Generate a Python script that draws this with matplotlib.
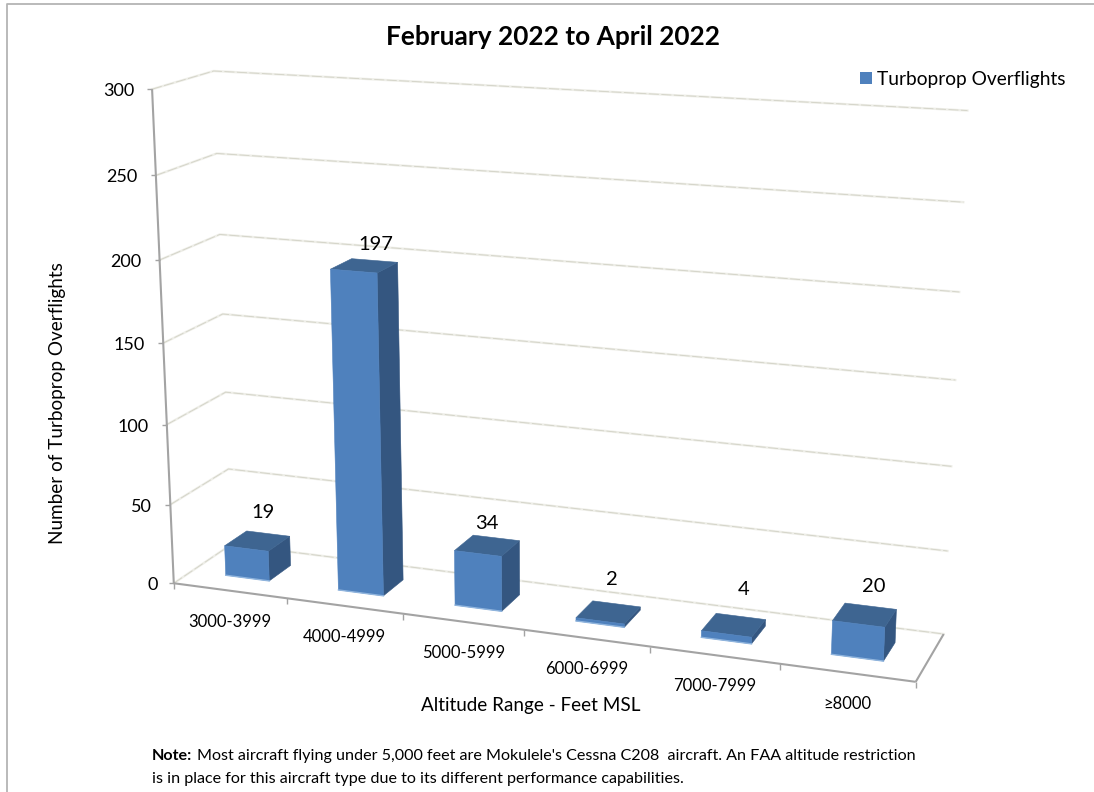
import numpy as np
import matplotlib
matplotlib.use("Agg")
import matplotlib.pyplot as plt
from matplotlib.patches import Polygon, Rectangle

FONT = ['Lato', 'DejaVu Sans']
plt.rcParams['font.family'] = FONT

title = "February 2022 to April 2022"
categories = ["3000-3999", "4000-4999", "5000-5999", "6000-6999", "7000-7999", "≥8000"]
values = [19, 197, 34, 2, 4, 20]
y_ticks = [0, 50, 100, 150, 200, 250, 300]
series_name = "Turboprop Overflights"
x_title = "Altitude Range - Feet MSL"
y_title = "Number of Turboprop Overflights"
note_bold = "Note:"
note_1 = "Most aircraft flying under 5,000 feet are Mokulele's Cessna C208  aircraft. An FAA altitude restriction"
note_2 = "is in place for this aircraft type due to its different performance capabilities."

# camera calibration: (category pos, depth, value) -> canvas pixel
calib = [
    (0,0,0,175,582.5),(0,0,50,170,503),(0,0,200,160,259),(0,0,250,156,175),(0,0,300,152,89),
    (0,1,300,213,72),(0,1,250,216,154),(0,1,200,221,234),(0,1,50,228,469),(0,1,0,231,544),
    (6,1,300,968,111),(6,1,250,963,202),(6,1,50,948,551),(6,1,0,944,633),(6,0,0,915,681),
    (1,0,0,287,600),(2,0,0,403,615),(3,0,0,524,632),(4,0,0,649,647),(5,0,0,781,663),
]
def fit_camera(pts):
    A = []
    for x, d, z, u, v in pts:
        w = [x/6, d, z/300, 1]
        u, v = u/1000, v/1000
        A.append(w + [0,0,0,0] + [-u*c for c in w])
        A.append([0,0,0,0] + w + [-v*c for c in w])
    return np.linalg.svd(np.array(A))[2][-1].reshape(3, 4)
P = fit_camera(calib)
def pr(x, d, z):
    h = P @ np.array([x/6, d, z/300, 1])
    return (1000*h[0]/h[2], 1000*h[1]/h[2])

fig = plt.figure(figsize=(10.94, 7.92), dpi=100, facecolor='white')
ax = fig.add_axes([0, 0, 1, 1])
ax.set_xlim(0, 1094); ax.set_ylim(792, 0); ax.axis('off')

# chart frame
ax.plot([7, 7, 1094], [792, 4, 4], color='#b4b4b4', lw=1.3, zorder=1)

def grid(pts):
    xs, ys = zip(*pts)
    ax.plot(xs, ys, color='#eeeee8', lw=1.7, zorder=2, solid_joinstyle='miter')
    ax.plot(xs, ys, color='#d2d2c6', lw=0.6, zorder=2.1, dashes=(12, 3))

for t in y_ticks:
    grid([pr(0,0,t), pr(0,1,t), pr(6,1,t)])

# axes
AX = '#a3a3a3'
def line(a, b, lw=1.5, c=AX):
    ax.plot([a[0], b[0]], [a[1], b[1]], color=c, lw=lw, zorder=3, solid_capstyle='butt')
line(pr(0,0,0), pr(0,0,300))
line(pr(0,0,0), pr(6,0,0))
line(pr(6,0,0), pr(6,1,0))
for t in y_ticks:
    p = pr(0,0,t)
    line((p[0]-5, p[1]), p, lw=1)
    ax.text(p[0]-18 if t else p[0]-16, p[1]+2, str(t), ha='right', va='center', fontsize=13, color='black', zorder=6)
for i in range(len(categories)+1):
    p = pr(i,0,0)
    line(p, (p[0], p[1]+6), lw=1)

# bars
FRONT, SIDE, TOP, EDGE = '#4f81bd', '#345680', '#3e6591', '#8fb4dd'
BX0, BX1, D0, D1 = 0.305, 0.695, 0.31, 0.70
label_off = [(-5, -21), (1, -16), (-9, -14), (-5, -24), (3, -27), (3, -20)]
for i, v in enumerate(values):
    x0, x1 = i+BX0, i+BX1
    faces = [
        ([pr(x1,D0,0), pr(x1,D1,0), pr(x1,D1,v), pr(x1,D0,v)], SIDE),
        ([pr(x0,D0,v), pr(x1,D0,v), pr(x1,D1,v), pr(x0,D1,v)], TOP),
        ([pr(x0,D0,0), pr(x1,D0,0), pr(x1,D0,v), pr(x0,D0,v)], FRONT),
    ]
    for pts, c in faces:
        ax.add_patch(Polygon(pts, closed=True, facecolor=c, edgecolor=c, lw=0.4, zorder=4+i*0.01))
    a, b = pr(x0,D0,0), pr(x1,D0,0)
    ax.plot([a[0], b[0]], [a[1], b[1]], color=EDGE, lw=1.0, zorder=4.5)
    c = pr(i+.5, D1, v)
    ax.text(c[0]+label_off[i][0], c[1]+label_off[i][1], str(v), ha='center', va='center', fontsize=14.5, color='black', zorder=6)

for i, lab in enumerate(categories):
    p = pr(i+.5, 0, 0)
    ax.text(p[0], p[1]+31, lab, ha='center', va='center', fontsize=12, color='black', zorder=6)

ax.text(553, 37, title, ha='center', va='center', fontsize=18.9, fontweight='bold', color='black')
ax.text(531, 706, x_title, ha='center', va='center', fontsize=13.6, color='black')
ax.text(58, 403, y_title, ha='center', va='center', rotation=90, fontsize=13.6, color='black')
ax.add_patch(Rectangle((860, 72), 12, 12, facecolor=FRONT, edgecolor='none'))
ax.text(877, 79, series_name, ha='left', va='center', fontsize=13.8, color='black')
ax.text(152, 756, note_bold, ha='left', va='center', fontsize=11.6, fontweight='bold', color='black')
ax.text(197, 756, note_1, ha='left', va='center', fontsize=11.6, color='black')
ax.text(152, 779, note_2, ha='left', va='center', fontsize=11.6, color='black')

fig.savefig('out.png', dpi=100)
